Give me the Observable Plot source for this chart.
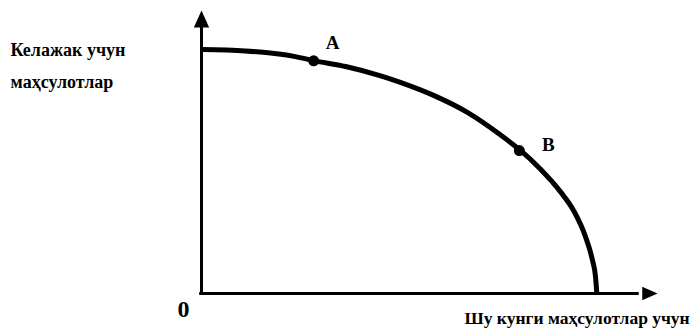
<!DOCTYPE html>
<html>
<head>
<meta charset="utf-8">
<script src="https://cdn.jsdelivr.net/npm/d3@7"></script>
<script src="https://cdn.jsdelivr.net/npm/@observablehq/plot@0.6"></script>
<style>
  html, body { margin: 0; padding: 0; background: #fff; }
  svg { display: block; }
</style>
</head>
<body>
<div id="chart"></div>
<script>
// Production possibility frontier (x: today's goods, y: future goods)
const curveX = [0, 9.6, 20.6, 24.6, 31.6, 39.3, 43.6, 50.9, 58.3, 65.6, 69.7, 74.3, 78.7, 81.6, 84.2, 85.7, 86.4, 86.7];
const curveY = [86.2, 85.7, 83.7, 82.3, 80.2, 76.9, 74.6, 70.0, 64.0, 56.0, 50.9, 44.0, 36.0, 29.3, 20.1, 12.0, 6.0, 0];
const pointNames = ["A", "B"];
const pointX = [24.6, 69.7];
const pointY = [82.2, 50.5];
const axisEnd = [100, 100];   // arrow tips (x, y)
const axisLineEnd = [96, 94]; // where the shafts meet the heads
const yTitle = ["Келажак учун", "маҳсулотлар"];
const xTitle = "Шу кунги маҳсулотлар учун";
const originLabel = "0";

const curve = curveX.map((x, i) => ({x, y: curveY[i]}));
const points = pointNames.map((name, i) => ({name, x: pointX[i], y: pointY[i]}));

const arrowHead = {
  draw(context, size) {
    const h = Math.sqrt(size);
    const w = 0.9 * h;
    context.moveTo(0, 0);
    context.lineTo(-w / 2, h);
    context.lineTo(w / 2, h);
    context.closePath();
  }
};

const font = "'Liberation Serif', 'Times New Roman', serif";

const chart = Plot.plot({
  width: 692,
  height: 328,
  marginLeft: 201,
  marginRight: 35,
  marginTop: 10,
  marginBottom: 35,
  x: {domain: [0, 100], axis: null},
  y: {domain: [0, 100], axis: null},
  style: {background: "#fff", fontFamily: font},
  marks: [
    // axes
    Plot.ruleX([0], {y1: 0, y2: axisLineEnd[1], stroke: "#000", strokeWidth: 3}),
    Plot.ruleY([0], {x1: -0.4, x2: axisLineEnd[0], stroke: "#000", strokeWidth: 3}),
    Plot.dot([{x: 0, y: axisEnd[1]}], {x: "x", y: "y", symbol: arrowHead, r: 9.6, fill: "#000", stroke: null}),
    Plot.dot([{x: axisEnd[0], y: 0}], {x: "x", y: "y", symbol: arrowHead, r: 8.6, rotate: 90, fill: "#000", stroke: null}),
    // frontier
    Plot.line(curve, {x: "x", y: "y", curve: "monotone-x", stroke: "#000", strokeWidth: 5, strokeLinecap: "butt"}),
    Plot.dot(points, {x: "x", y: "y", r: 5.5, fill: "#000", stroke: null}),
    Plot.text(points.filter(d => d.name === "A"), {x: "x", y: "y", text: "name", dx: 19, dy: -18, fontSize: 19, fontWeight: "bold", fill: "#000"}),
    Plot.text(points.filter(d => d.name === "B"), {x: "x", y: "y", text: "name", dx: 29, dy: -6, fontSize: 19, fontWeight: "bold", fill: "#000"}),
    // titles
    Plot.text([yTitle[0]], {frameAnchor: "top-left", text: d => d, dx: -191, dy: 40, textAnchor: "start", lineAnchor: "middle", fontSize: 18, fontWeight: "bold", fill: "#000"}),
    Plot.text([yTitle[1]], {frameAnchor: "top-left", text: d => d, dx: -191, dy: 72, textAnchor: "start", lineAnchor: "middle", fontSize: 18, fontWeight: "bold", fill: "#000"}),
    Plot.text([originLabel], {frameAnchor: "bottom-left", text: d => d, dx: -18, dy: 16, textAnchor: "middle", lineAnchor: "middle", fontSize: 24, fontWeight: "bold", fill: "#000"}),
    Plot.text([xTitle], {frameAnchor: "bottom-left", text: d => d, dx: 263, dy: 25, textAnchor: "start", lineAnchor: "middle", fontSize: 17.5, fontWeight: "bold", fill: "#000"})
  ]
});

document.getElementById("chart").appendChild(chart);
</script>
</body>
</html>
